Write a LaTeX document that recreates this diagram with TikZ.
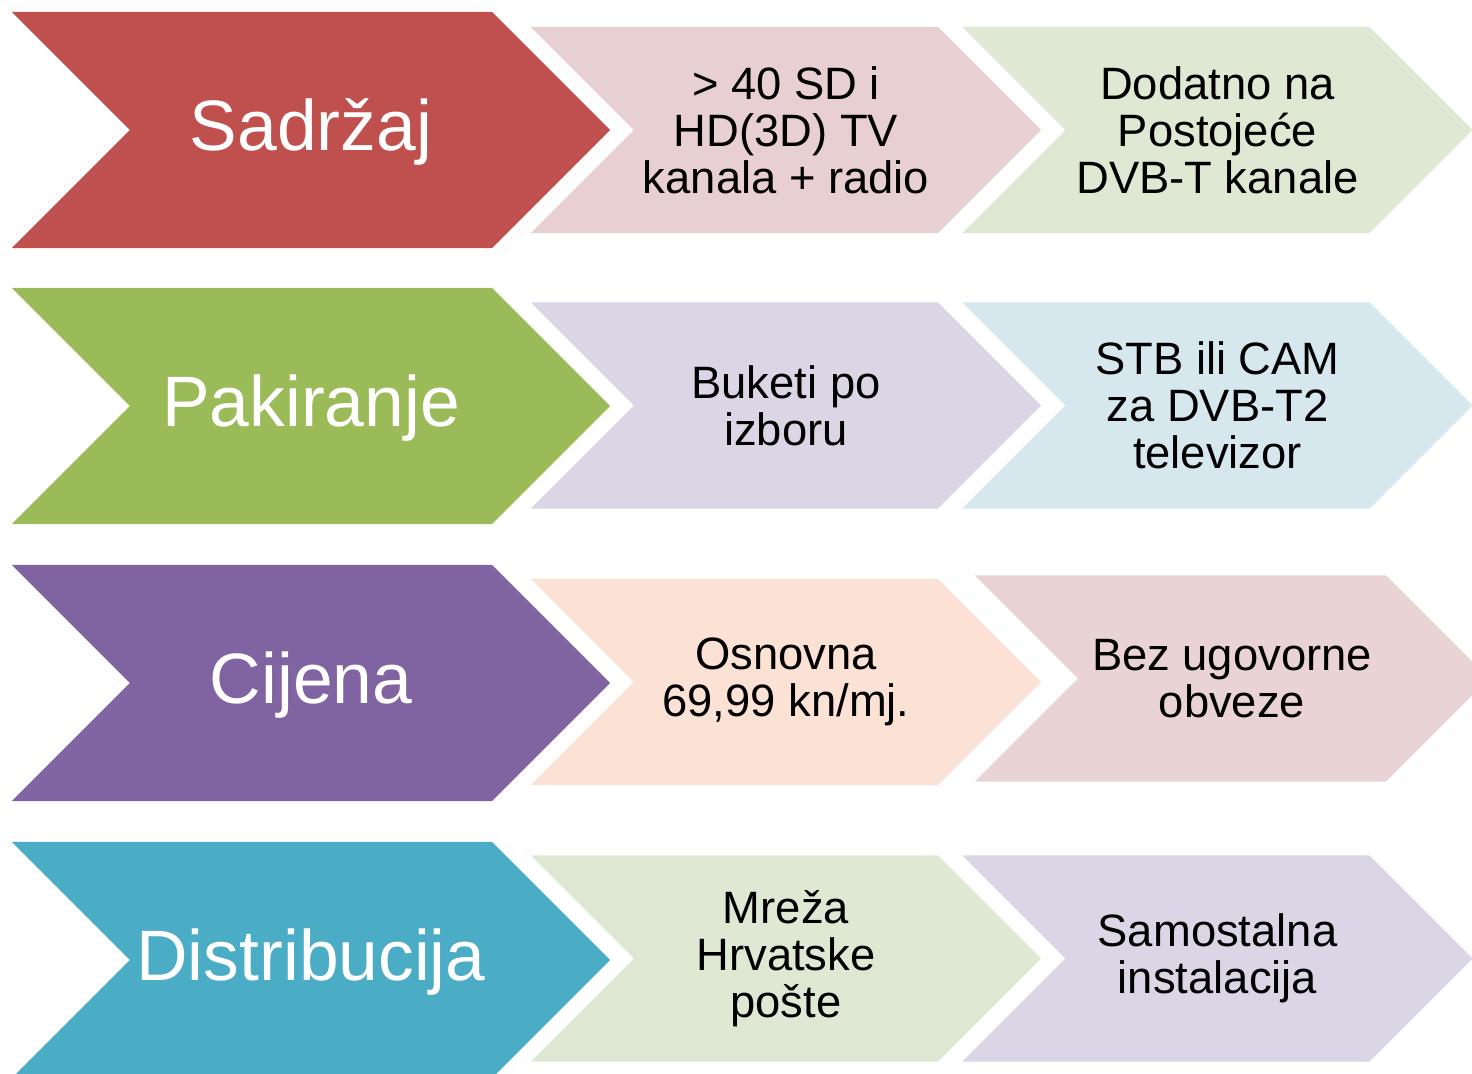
\documentclass[tikz,border=0pt]{standalone}
\usepackage{fontspec}
\setmainfont{Liberation Sans}
\usetikzlibrary{shapes.symbols}

\definecolor{rotdunkel}{HTML}{C0504D}
\definecolor{gruendunkel}{HTML}{9BBB59}
\definecolor{liladunkel}{HTML}{8064A2}
\definecolor{blaudunkel}{HTML}{4BACC6}
\definecolor{rosa}{RGB}{232,207,209}
\definecolor{rosazwei}{RGB}{233,211,213}
\definecolor{hellgruen}{RGB}{222,232,210}
\definecolor{lavendel}{RGB}{219,214,230}
\definecolor{hellblau}{RGB}{214,232,238}
\definecolor{pfirsich}{RGB}{252,225,213}

\begin{document}
\begin{tikzpicture}[x=0.01cm, y=-0.01cm,
	chev/.style={shape=signal, signal from=west, signal to=east, signal pointer angle=90, inner sep=0pt, align=center},
	bigchev/.style={chev, minimum width=5.98cm, minimum height=2.36cm},
	bigtext/.style={anchor=base, inner sep=0pt, text=white, font=\fontsize{20.3}{23}\selectfont},
	smallchev/.style={chev, minimum width=5.1cm, minimum height=2.06cm, text=black, font=\fontsize{12.9}{13.4}\selectfont}]
		\clip (0,0) rectangle (1472,1074);

		% 左の大きい矢印
		\node[bigchev, fill=rotdunkel] (S) at (311, 130) {};
		\node[bigchev, fill=gruendunkel] (P) at (311, 406) {};
		\node[bigchev, fill=liladunkel] (C) at (311, 683) {};
		\node[bigchev, fill=blaudunkel] (D) at (311, 960) {};

		% 左の矢印の文字
		\node[bigtext] (St) at ([yshift=-0.207cm]S.center) {Sadržaj};
		\node[bigtext] (Pt) at ([yshift=-0.207cm]P.center) {Pakiranje};
		\node[bigtext] (Ct) at ([yshift=-0.207cm]C.center) {Cijena};
		\node[bigtext] (Dt) at ([yshift=-0.207cm]D.center) {Distribucija};

		% 中央の矢印
		\node[smallchev, fill=rosa] (S1) at (786, 130) {> 40 SD i\\HD(3D) TV\\kanala + radio};
		\node[smallchev, fill=lavendel] (P1) at (786, 405.5) {Buketi po\\izboru};
		\node[smallchev, fill=pfirsich] (C1) at (786, 682) {Osnovna\\69,99 kn/mj.};
		\node[smallchev, fill=hellgruen] (D1) at (786, 958.5) {Mreža\\Hrvatske\\pošte};

		% 右の矢印
		\node[smallchev, fill=hellgruen] (S2) at (1217.5, 130) {Dodatno na\\Postojeće\\DVB-T kanale};
		\node[smallchev, fill=hellblau] (P2) at (1217.5, 405.5) {STB ili CAM\\za DVB-T2\\televizor};
		\node[smallchev, fill=rosazwei, minimum width=5.14cm] (C2) at (1232, 678.5) {Bez ugovorne\\obveze};
		\node[smallchev, fill=lavendel] (D2) at (1217.5, 958.5) {Samostalna\\instalacija};
	\end{tikzpicture}
\end{document}
